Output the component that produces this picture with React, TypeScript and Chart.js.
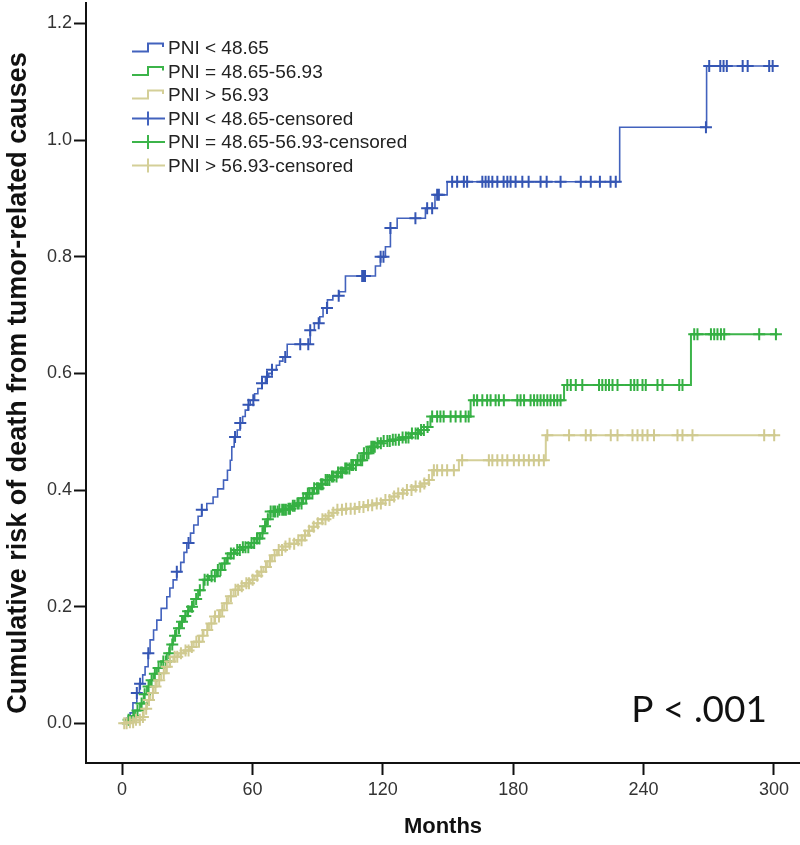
import { useEffect, useRef } from "react";
import { Chart, registerables, ScatterController } from "chart.js";

Chart.register(...registerables);

// Scatter controller for censor marks that does not reserve extra padding around the plot area
class CensorController extends ScatterController {
  getMaxOverflow() {
    return false as any;
  }
}
(CensorController as any).id = "censor";
(CensorController as any).defaults = (ScatterController as any).defaults;
(CensorController as any).overrides = (ScatterController as any).overrides;
Chart.register(CensorController as any);

// ---------- data ----------
const xTickValues = [0, 60, 120, 180, 240, 300];
const yTickValues = [0, 0.2, 0.4, 0.6, 0.8, 1.0, 1.2];
const groupLabels = ["PNI < 48.65", "PNI = 48.65-56.93", "PNI > 56.93"];
const censoredLabels = ["PNI < 48.65-censored", "PNI = 48.65-56.93-censored", "PNI > 56.93-censored"];
const pValueText = "P < .001";

// Low PNI group (blue): event times (months) and cumulative risk after each step
const lowTimes = [0, 2, 3.7, 5, 6.8, 8, 9.5, 10.6, 12, 12.9, 14.5, 16, 18, 20.6, 22, 23.5, 25.2, 27, 28.5, 29.8, 31.5, 33, 35, 36.7, 39, 41.9, 44, 46.7, 48.5, 49.8, 50.5, 51.6, 53, 54.4, 55.5, 56.7, 58, 59, 61, 62.5, 64.4, 66, 67.5, 69, 71, 72.5, 74, 76, 86.6, 88.5, 91, 92.5, 94.5, 97, 100, 102.8, 116.6, 118.9, 121.2, 123.5, 126.6, 139.6, 144, 149.6, 229, 269, 300];
const lowRisk = [0, 0.009, 0.018, 0.035, 0.052, 0.068, 0.083, 0.097, 0.12, 0.143, 0.16, 0.177, 0.197, 0.217, 0.232, 0.246, 0.26, 0.276, 0.293, 0.309, 0.326, 0.34, 0.355, 0.366, 0.377, 0.388, 0.402, 0.417, 0.434, 0.451, 0.474, 0.491, 0.503, 0.515, 0.526, 0.537, 0.546, 0.554, 0.565, 0.574, 0.583, 0.594, 0.6, 0.606, 0.614, 0.621, 0.628, 0.65, 0.674, 0.686, 0.697, 0.712, 0.726, 0.733, 0.74, 0.767, 0.784, 0.8, 0.817, 0.849, 0.866, 0.883, 0.906, 0.9285, 1.022, 1.127, 1.127];
const lowCensored = [6.8, 8.3, 12.1, 25.2, 30.6, 36.7, 52, 54.4, 58.2, 60.4, 64.4, 66.7, 69, 75.1, 82, 85.7, 86.6, 90.5, 94.3, 99.7, 110.5, 111.2, 111.8, 119, 120.3, 123.5, 135, 140.4, 142.7, 145, 145.8, 151.9, 154.2, 157.3, 158.8, 165.8, 167.3, 168.7, 170.4, 172.7, 175.6, 177.3, 178.8, 181.1, 184.2, 187.1, 192.6, 195.4, 201.8, 211.1, 215.7, 219.9, 224.8, 227.2, 268.7, 270.2, 275.3, 276.8, 278.3, 285.6, 287.9, 297.8, 299.4];

// Middle PNI group (green)
const midTimes = [0, 2.2, 4, 6, 8.3, 10, 11.5, 12.9, 14.5, 16, 18, 20.6, 22, 23.5, 25, 26.7, 28.5, 30, 31.3, 33, 35, 37.5, 40, 43.6, 46, 48, 49.8, 52, 55, 59, 61, 63.6, 65, 66.5, 68.2, 72, 75.9, 78, 80.5, 83, 85.1, 88, 91, 93.5, 95.9, 99, 102, 105, 108.2, 111.2, 114.3, 117.4, 120, 123.5, 128, 132.7, 137, 140.4, 141.9, 160.4, 203.4, 261.8, 301.7];
const midRisk = [0, 0.006, 0.012, 0.022, 0.034, 0.05, 0.063, 0.074, 0.085, 0.095, 0.106, 0.12, 0.135, 0.15, 0.163, 0.174, 0.184, 0.192, 0.2, 0.213, 0.228, 0.246, 0.252, 0.263, 0.274, 0.283, 0.291, 0.297, 0.302, 0.309, 0.317, 0.326, 0.338, 0.35, 0.363, 0.366, 0.368, 0.373, 0.377, 0.386, 0.394, 0.403, 0.41, 0.417, 0.423, 0.43, 0.437, 0.443, 0.451, 0.463, 0.474, 0.48, 0.484, 0.486, 0.49, 0.497, 0.503, 0.508, 0.526, 0.554, 0.58, 0.667, 0.667];
const midCensored = [3, 5.2, 7.1, 9, 10.4, 12.2, 13.6, 15.1, 16.8, 19, 20.2, 21.7, 23.1, 24.4, 26.2, 27.6, 29.1, 30.4, 32.2, 34.1, 35.8, 38, 39.4, 41.2, 42.7, 44.1, 45.3, 47.2, 48.6, 50.1, 51.4, 53, 54.2, 55.6, 56.8, 58.1, 59.6, 60.8, 62.1, 63.2, 64.6, 65.8, 67.1, 68.4, 69.6, 70.4, 71.6, 72.4, 73.7, 74.5, 75.4, 76.6, 77.3, 78.6, 79.4, 80.7, 81.3, 82.6, 83.4, 84.7, 85.5, 86.3, 87.6, 88.4, 89.7, 90.4, 91.6, 92.3, 93.7, 94.5, 95.4, 96.6, 97.3, 98.7, 99.4, 100.6, 101.3, 102.7, 103.4, 104.6, 105.5, 106.3, 107.6, 108.4, 109.7, 110.5, 111.3, 112.6, 113.4, 114.7, 115.5, 116.3, 117.6, 119.1, 120.4, 122.1, 123.2, 124.6, 125.9, 127.4, 129.1, 130.6, 131.8, 133.4, 135.1, 136.2, 137.6, 138.9, 140.6, 142.7, 145, 146.5, 148, 151.2, 153.5, 155.8, 158.1, 159.5, 161.9, 163.4, 165.8, 168, 169.6, 171.9, 173.4, 175.7, 181.9, 183.4, 185, 188, 189.6, 191.1, 192.6, 194.1, 195.7, 197.2, 198.8, 200.3, 201.8, 204.9, 206.5, 208.8, 211.8, 219.5, 221, 222.6, 224.1, 225.7, 228, 234.1, 235.7, 237.2, 239.5, 241, 246.4, 248.7, 256.4, 257.9, 263.3, 264.8, 271, 272.5, 274, 275.6, 277.1, 293.2, 300.9];

// High PNI group (tan)
const highTimes = [0, 3, 6, 8.3, 10, 11.5, 13, 14.5, 16, 18, 20, 21.8, 23.6, 26, 28.5, 31.3, 33, 35.5, 37.5, 40, 42.5, 45.2, 47, 49, 51.3, 54, 56.5, 59, 61, 63, 65.1, 67, 69, 71.3, 74, 77, 80.5, 83, 85.5, 87.5, 89.7, 92, 94.5, 96.5, 98.9, 103, 108.2, 112, 115.8, 120, 124, 127, 129.6, 134, 138, 141, 142.7, 155, 195, 300.9];
const highRisk = [0, 0.002, 0.006, 0.011, 0.025, 0.04, 0.052, 0.063, 0.074, 0.086, 0.097, 0.106, 0.114, 0.12, 0.125, 0.131, 0.14, 0.15, 0.16, 0.171, 0.183, 0.194, 0.206, 0.218, 0.229, 0.235, 0.24, 0.246, 0.253, 0.26, 0.268, 0.278, 0.288, 0.297, 0.303, 0.308, 0.314, 0.322, 0.33, 0.337, 0.343, 0.35, 0.356, 0.361, 0.366, 0.368, 0.371, 0.374, 0.377, 0.383, 0.389, 0.394, 0.4, 0.406, 0.411, 0.417, 0.434, 0.451, 0.494, 0.494];
const highCensored = [1, 2.1, 3.6, 5.1, 6.4, 8.2, 9.6, 11.1, 12.4, 14.2, 15.4, 17.1, 19.2, 20.6, 22.1, 24.2, 25.4, 27.1, 29.2, 30.6, 32.1, 34.2, 35.4, 37.1, 39.2, 41.1, 42.8, 44.6, 46.1, 48.2, 50.1, 52.2, 53.4, 55.1, 57.2, 58.4, 60.1, 62.2, 64.1, 66.2, 68.1, 70.2, 72.1, 73.6, 75.2, 77.1, 79.2, 81.1, 82.6, 84.2, 86.1, 88.2, 90.1, 92.2, 93.6, 95.1, 97.2, 99.1, 101.2, 103.1, 105.2, 107.1, 109.2, 111.1, 113.2, 115.1, 117.2, 119.1, 121.2, 123.1, 125.2, 127.1, 129.2, 131.1, 133.2, 135.1, 137.2, 139.1, 141.2, 143.5, 145, 147.3, 149.6, 152.7, 156.5, 168.8, 170.4, 172.7, 175, 177.3, 180.3, 182.6, 184.9, 187.2, 189.5, 191.8, 194.1, 195.7, 205.7, 213.4, 215.7, 224.9, 228, 234.9, 237.2, 239.5, 241.8, 244.8, 255.6, 257.9, 262.5, 295.5, 300.1];

// ---------- styling ----------
const lineColors = ["#4262bd", "#3cb44a", "#d4cf98"];
const markColors = ["#3556b4", "#35b043", "#d0ca90"];
const lineWidths = [1.6, 2, 2];

const stepAt = (times: number[], vals: number[], t: number) => {
  let v = vals[0];
  for (let i = 0; i < times.length; i++) {
    if (times[i] <= t + 1e-9) v = vals[i];
    else break;
  }
  return v;
};

const groups = [
  { times: lowTimes, risk: lowRisk, cens: lowCensored },
  { times: midTimes, risk: midRisk, cens: midCensored },
  { times: highTimes, risk: highRisk, cens: highCensored },
];

const legendPlugin = {
  id: "kmLegend",
  afterDraw(chart: any) {
    const ctx = chart.ctx;
    ctx.save();
    const x0 = 132;
    const rowH = 23.5;
    const y0 = 48;
    ctx.font = '19px "Liberation Sans", Arial, sans-serif';
    ctx.fillStyle = "#222";
    ctx.textBaseline = "middle";
    ctx.textAlign = "left";
    const labels = [...groupLabels, ...censoredLabels];
    labels.forEach((lab, i) => {
      const y = y0 + i * rowH;
      const g = i % 3;
      ctx.strokeStyle = lineColors[g];
      ctx.lineWidth = 2;
      ctx.beginPath();
      if (i < 3) {
        ctx.moveTo(x0, y + 3.5);
        ctx.lineTo(x0 + 16, y + 3.5);
        ctx.lineTo(x0 + 16, y - 4.5);
        ctx.lineTo(x0 + 31, y - 4.5);
        ctx.lineTo(x0 + 31, y - 1);
      } else {
        ctx.moveTo(x0, y);
        ctx.lineTo(x0 + 33, y);
        ctx.moveTo(x0 + 16, y - 7);
        ctx.lineTo(x0 + 16, y + 7);
      }
      ctx.stroke();
      ctx.fillText(lab, x0 + 36, y + 1);
    });
    ctx.restore();
  },
};

const pValuePlugin = {
  id: "pValue",
  afterDraw(chart: any) {
    const ctx = chart.ctx;
    const a = chart.chartArea;
    ctx.save();
    ctx.font = '37px Lato, "Open Sans", sans-serif';
    ctx.fillStyle = "#111";
    ctx.textAlign = "right";
    ctx.textBaseline = "alphabetic";
    ctx.fillText(pValueText, a.right - 33, a.bottom - 41);
    ctx.restore();
  },
};

export default function App() {
  const ref = useRef<HTMLCanvasElement | null>(null);

  useEffect(() => {
    if (!ref.current) return;
    const lineSets = groups.map((g, i) => ({
      type: "line" as const,
      label: groupLabels[i],
      data: g.times.map((t, k) => ({ x: t, y: g.risk[k] })),
      borderColor: lineColors[i],
      backgroundColor: lineColors[i],
      borderWidth: lineWidths[i],
      stepped: "before" as const,
      pointRadius: 0,
      pointHoverRadius: 0,
      pointHitRadius: 0,
      fill: false,
      order: 6 - i,
    }));
    const censSets = groups.map((g, i) => ({
      type: "censor",
      label: censoredLabels[i],
      data: g.cens.map((t) => ({ x: t, y: stepAt(g.times, g.risk, t) })),
      showLine: false,
      pointStyle: "cross" as const,
      pointRadius: 6,
      pointHoverRadius: 6,
      pointBorderWidth: 2,
      pointBorderColor: markColors[i],
      borderColor: markColors[i],
      backgroundColor: markColors[i],
      order: 3 - i,
    }));

    const tickFont = { family: '"Liberation Sans", Arial, sans-serif', size: 18 };

    const chart = new Chart(ref.current, {
      type: "line",
      data: { datasets: [...lineSets, ...censSets] as any },
      plugins: [legendPlugin, pValuePlugin],
      options: {
        animation: false,
        responsive: false,
        events: [],
        layout: { padding: { top: 3, right: 0, bottom: 0, left: 0 } },
        plugins: {
          legend: { display: false },
          tooltip: { enabled: false },
        },
        scales: {
          x: {
            type: "linear",
            min: -16.59,
            max: 311.98,
            afterBuildTicks: (s: any) => {
              s.ticks = xTickValues.map((v) => ({ value: v }));
            },
            afterFit: (s: any) => {
              s.height = 82;
              s.paddingLeft = 0;
              s.paddingRight = 0;
            },
            ticks: {
              autoSkip: false,
              maxRotation: 0,
              padding: 4,
              color: "#333",
              font: tickFont,
              callback: (v: any) => String(v),
            },
            grid: {
              display: true,
              drawOnChartArea: false,
              drawTicks: true,
              tickLength: 12,
              tickColor: "#111",
              tickWidth: 2,
            },
            border: { display: true, color: "#111", width: 2 },
            title: {
              display: true,
              text: "Months",
              color: "#111",
              font: { family: '"Liberation Sans", Arial, sans-serif', size: 22, weight: "bold" },
              padding: { top: 0, bottom: 5 },
            },
          },
          y: {
            type: "linear",
            min: -0.068,
            max: 1.2349,
            afterBuildTicks: (s: any) => {
              s.ticks = yTickValues.map((v) => ({ value: v }));
            },
            afterFit: (s: any) => {
              s.width = 86;
              s.paddingTop = 0;
              s.paddingBottom = 0;
            },
            ticks: {
              autoSkip: false,
              padding: 2,
              color: "#333",
              font: tickFont,
              callback: (v: any) => Number(v).toFixed(1),
            },
            grid: {
              display: true,
              drawOnChartArea: false,
              drawTicks: true,
              tickLength: 12,
              tickColor: "#111",
              tickWidth: 2,
            },
            border: { display: true, color: "#111", width: 2 },
            title: {
              display: true,
              text: "Cumulative risk of death from tumor-related causes",
              color: "#111",
              font: { family: '"Liberation Sans", Arial, sans-serif', size: 27, weight: "bold" },
              padding: { top: 2, bottom: 0 },
            },
          },
        },
      },
    });
    return () => chart.destroy();
  }, []);

  return (
    <div style={{ position: "absolute", left: 0, top: 0, width: 800, height: 845, background: "#fff" }}>
      <canvas ref={ref} width={800} height={845} style={{ display: "block" }} />
    </div>
  );
}
